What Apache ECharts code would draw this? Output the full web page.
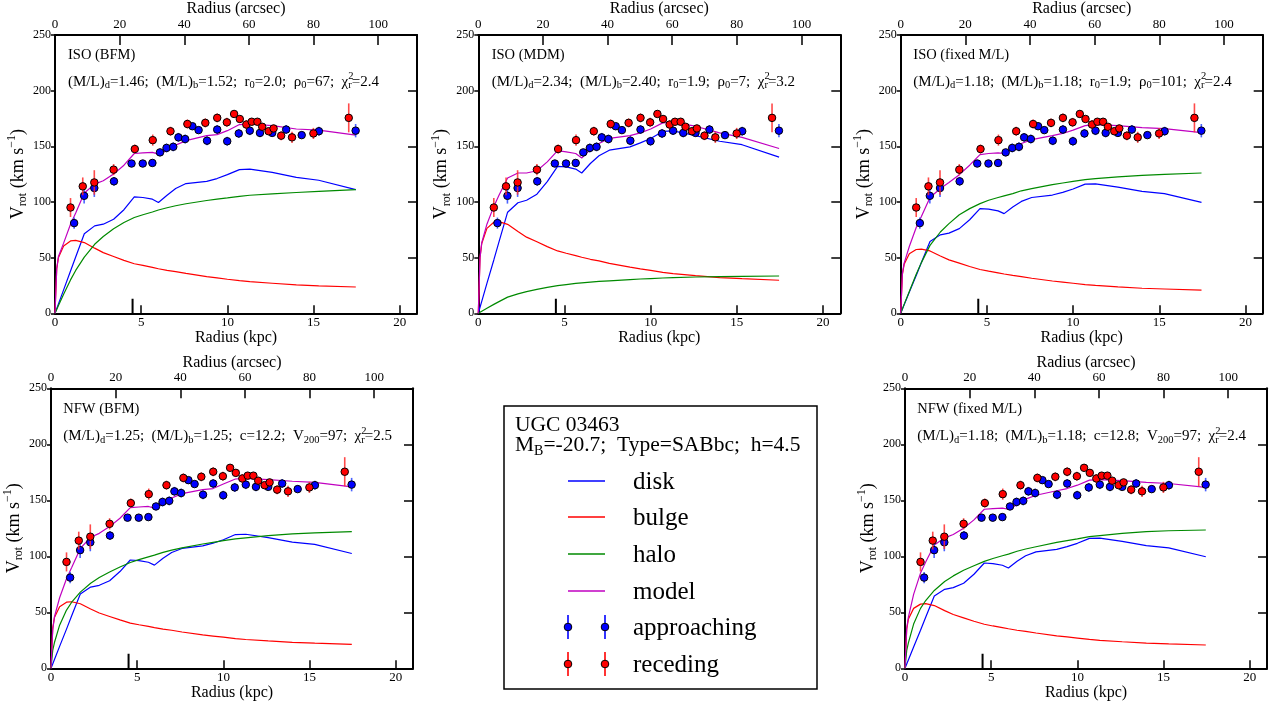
<!DOCTYPE html>
<html><head><meta charset="utf-8">
<script src="https://cdn.jsdelivr.net/npm/echarts/dist/echarts.min.js"></script>
<style>html,body{margin:0;padding:0;background:#fff}#c{width:1272px;height:706px}</style>
</head><body><div id="c"></div>
<script>
// ---------------- data ----------------
const radiusKpc = [0, 0.1, 0.2, 0.5, 0.9, 1.2, 1.7, 2.3, 2.8, 3.4, 4.0, 4.6, 5.1, 5.65, 6.0, 6.5, 7.0, 7.6, 8.8, 9.4, 10.0, 10.7, 11.3, 12.6, 14.0, 15.3, 17.45];

// ISO (BFM)
const isoBfmDisk  = [0, 4.2, 8.5, 21, 38, 50.5, 71.5, 78.5, 80, 84.5, 93, 104.5, 104, 102.5, 99.5, 106, 112, 116.5, 118.5, 121, 124.5, 129, 129.5, 126.5, 122, 119.5, 111];
const isoBfmBulge = [0, 40, 50, 60.5, 65, 65.5, 63.5, 58.5, 54.5, 51, 47.5, 44.5, 43, 41.2, 40, 38.6, 37.5, 35.8, 33, 31.8, 30.6, 29.3, 28.4, 27, 25.5, 24.7, 23.6];
const isoBfmHalo  = [0, 3.5, 7, 17.2, 30, 38.5, 50.5, 62, 69, 76, 81.5, 86, 88.5, 91, 92.8, 94.8, 96.6, 98.4, 101.3, 102.5, 103.6, 105, 106, 107.2, 108.5, 109.5, 111];
const isoBfmModel = [0, 40, 51, 63, 80, 90, 108, 116, 119, 125, 133, 143.5, 144, 144.5, 143, 146, 151, 155, 159.5, 160.5, 164, 169.5, 170, 168.5, 165.5, 164.5, 160];

// ISO (MDM)
const isoMdmDisk  = [0, 5.4, 10.7, 26.8, 47.9, 64.2, 90.8, 99.3, 101.5, 107, 118.3, 132, 131.5, 129.5, 126, 134.5, 141.5, 146.5, 149.5, 153, 157, 163.3, 163.8, 159.5, 154.5, 151.4, 140.2];
const isoMdmBulge = [0, 50, 62.7, 76.3, 81.7, 82.3, 79.9, 73.4, 68.4, 64.2, 59.9, 56, 53.9, 51.8, 50.3, 48.5, 47.1, 44.9, 41.4, 39.9, 38.5, 36.8, 35.7, 33.8, 32.1, 31.1, 29.7];
const isoMdmHalo  = [0, 1, 1.8, 4.5, 8, 10.5, 14.5, 17.5, 19.5, 21.5, 23.3, 24.8, 25.8, 26.8, 27.3, 28, 28.6, 29.2, 30.3, 30.8, 31.2, 31.7, 32.1, 32.6, 33, 33.2, 33.5];
const isoMdmModel = [0, 50, 63.5, 80, 96, 106, 121.5, 126, 126, 128, 136, 146, 145, 143.5, 139.5, 147, 152.5, 157, 159.5, 162, 165.5, 171, 171.5, 168, 162, 158, 148];

// ISO (fixed M/L)
const isoFixDisk  = [0, 3.8, 7.6, 19, 34, 45.6, 64.5, 70.5, 72, 76, 84, 94, 93.5, 92, 89.5, 95.5, 100.5, 104, 106.2, 108.6, 111.6, 116, 116.3, 113.3, 109.5, 107.5, 99.6];
const isoFixBulge = [0, 35, 44, 53.5, 57.3, 57.7, 56, 51.5, 48, 45, 42, 39.3, 37.8, 36.3, 35.3, 34, 33, 31.5, 29, 28, 27, 25.8, 25, 23.7, 22.5, 21.8, 20.8];
const isoFixHalo  = [0, 4, 8, 19.5, 35, 45.5, 61, 73, 80.5, 88.5, 94, 98.5, 101.5, 104, 105.5, 107.5, 110, 112, 115.5, 117, 118.5, 120, 121, 122.5, 123.8, 124.8, 126];
const isoFixModel = [0, 36, 45, 60, 77, 87, 104, 112, 117.5, 124.5, 133, 142.5, 143.5, 144, 143.5, 147.5, 152.5, 156, 159.5, 161.5, 164.5, 168.5, 169.5, 168.5, 166.7, 165.8, 162.3];

// NFW (BFM)
const nfwBfmDisk  = [0, 3.9, 7.8, 19.6, 35, 46.9, 66.4, 72.5, 74.1, 78.2, 86.4, 96.7, 96.2, 94.7, 92.1, 98.3, 103.4, 107, 109.3, 111.7, 114.8, 119.4, 119.7, 116.6, 112.7, 110.6, 102.5];
const nfwBfmBulge = [0, 36, 45.3, 55, 59, 59.4, 57.6, 53, 49.4, 46.3, 43.2, 40.4, 38.9, 37.4, 36.3, 35, 34, 32.4, 29.8, 28.8, 27.8, 26.5, 25.7, 24.4, 23.2, 22.4, 21.4];
const nfwBfmHalo  = [0, 16, 23, 38.5, 52, 59, 68, 76, 81, 86, 90.5, 94.5, 97, 99.5, 101, 103.5, 105.5, 107.5, 111, 112.5, 114, 115.5, 116.5, 118.5, 120, 121, 122];
const nfwBfmModel = [0, 34, 46, 63, 80, 90, 107, 117, 120.5, 126.5, 134, 143.5, 144, 144.5, 143, 147, 152, 156, 159.5, 160.5, 164.5, 169, 169.5, 168.5, 167, 166, 162];

// NFW (fixed M/L)
const nfwFixDisk  = [0, 3.8, 7.6, 19, 34, 45.6, 64.5, 70.5, 72, 76, 84, 94, 93.5, 92, 89.5, 95.5, 100.5, 104, 106.2, 108.6, 111.6, 116, 116.3, 113.3, 109.5, 107.5, 99.6];
const nfwFixBulge = [0, 35, 44, 53.5, 57.3, 57.7, 56, 51.5, 48, 45, 42, 39.3, 37.8, 36.3, 35.3, 34, 33, 31.5, 29, 28, 27, 25.8, 25, 23.7, 22.5, 21.8, 20.8];
const nfwFixHalo  = [0, 16, 23, 39.5, 53.5, 60.5, 69.5, 77.5, 82.5, 87.5, 91.5, 95.5, 98, 100.5, 102, 104.5, 106.5, 108.5, 112.5, 114, 115.5, 117.5, 118.5, 120.5, 122, 122.8, 123.5];
const nfwFixModel = [0, 36, 46, 66, 85, 95, 110, 116.5, 119.5, 125, 132.5, 142, 142.5, 143, 142, 146, 151, 154.5, 158.5, 160.5, 163.5, 168, 168.5, 167.5, 166, 165, 161.5];

// observed points
const recR = [0.90, 1.61, 2.28, 3.40, 4.63, 5.67, 6.70, 7.68, 8.72, 9.41, 9.97, 10.39, 10.72, 11.10, 11.41, 11.74, 12.02, 12.39, 12.68, 13.12, 13.75, 14.99, 17.04];
const recV = [95, 114, 117.5, 129, 147.5, 155.5, 163.5, 170, 171, 175.5, 171.5, 179, 174.5, 169.5, 172, 172, 167.5, 163.5, 166, 159.5, 158, 161.5, 175.5];
const recE = [8.5, 8, 11, 5, 4, 5, 4, 4, 4, 4, 4, 3, 3, 4, 3, 3, 3, 3, 3, 4, 5, 5, 13];
const appR = [1.11, 1.69, 2.28, 3.42, 4.44, 5.09, 5.65, 6.09, 6.47, 6.86, 7.16, 7.55, 7.97, 8.33, 8.82, 9.41, 9.99, 10.66, 11.30, 11.89, 12.60, 13.41, 14.31, 15.31, 17.44];
const appV = [81, 105.5, 112.5, 118.5, 134.5, 134.5, 135, 144.5, 148.5, 149.5, 158, 156.5, 168, 164.5, 155, 165, 154.5, 161.5, 164, 162, 162, 165, 160, 163.5, 164];
const appE = [5, 7, 8, 4, 3, 3, 3, 3, 4, 4, 4, 4, 3, 3, 4, 4, 4, 4, 4, 4, 3, 4, 3, 4, 6];

const scaleLengthH = [4.5, 0, 13];   // disk scale length marker (kpc, from, to)

const kpcTicks = [0, 21, 5];         // min, max, interval
const arcsecTicks = [0, 112, 20];
const vTicks = [0, 250, 50];

const panelTitles = ['ISO (BFM)', 'ISO (MDM)', 'ISO (fixed M/L)', 'NFW (BFM)', 'NFW (fixed M/L)'];
const panelParams = [
  '{n|(M/L)}{s|d}{n|=1.46;  (M/L)}{s|b}{n|=1.52;  r}{s|0}{n|=2.0;  ρ}{s|0}{n|=67;  χ}{z|2}{s|r}{n|=2.4}',
  '{n|(M/L)}{s|d}{n|=2.34;  (M/L)}{s|b}{n|=2.40;  r}{s|0}{n|=1.9;  ρ}{s|0}{n|=7;  χ}{z|2}{s|r}{n|=3.2}',
  '{n|(M/L)}{s|d}{n|=1.18;  (M/L)}{s|b}{n|=1.18;  r}{s|0}{n|=1.9;  ρ}{s|0}{n|=101;  χ}{z|2}{s|r}{n|=2.4}',
  '{n|(M/L)}{s|d}{n|=1.25;  (M/L)}{s|b}{n|=1.25;  c=12.2;  V}{s|200}{n|=97;  χ}{z|2}{s|r}{n|=2.5}',
  '{n|(M/L)}{s|d}{n|=1.18;  (M/L)}{s|b}{n|=1.18;  c=12.8;  V}{s|200}{n|=97;  χ}{z|2}{s|r}{n|=2.4}'
];
const legendNames = ['disk', 'bulge', 'halo', 'model', 'approaching', 'receding'];
const galaxyName = 'UGC 03463';
const galaxyInfo = '{n|M}{s|B}{n|=-20.7;  Type=SABbc;  h=4.5}';

// ---------------- layout / style ----------------
const FONT = "'Liberation Serif', 'Times New Roman', serif";
const C_DISK = '#0000ff', C_BULGE = '#ff0000', C_HALO = '#008a00', C_MODEL = '#c000c0';
const C_APP = '#0000ff', C_REC = '#ff0000';

const panelData = [
  [isoBfmDisk, isoBfmBulge, isoBfmHalo, isoBfmModel],
  [isoMdmDisk, isoMdmBulge, isoMdmHalo, isoMdmModel],
  [isoFixDisk, isoFixBulge, isoFixHalo, isoFixModel],
  [nfwBfmDisk, nfwBfmBulge, nfwBfmHalo, nfwBfmModel],
  [nfwFixDisk, nfwFixBulge, nfwFixHalo, nfwFixModel]
];
const gridPos = [
  {left: 55, top: 33.3}, {left: 478.3, top: 33.3}, {left: 900.7, top: 33.3},
  {left: 51, top: 388.3}, {left: 905, top: 388.3}
];
const GW = 362, GH = 280;

const axisLine = {show: true, onZero: false, lineStyle: {color: '#000', width: 2}};
const lblStyle = {color: '#000', fontFamily: FONT};

const grids = [], xAxes = [], yAxes = [], series = [], graphics = [];

function errItem(params, api) {
  const x = api.value(0), y = api.value(1), e = api.value(2);
  const p1 = api.coord([x, y - e]), p2 = api.coord([x, y + e]);
  return {type: 'line', shape: {x1: p1[0], y1: p1[1], x2: p2[0], y2: p2[1]},
          style: {stroke: api.visual('color'), lineWidth: 1.6, opacity: 0.85}};
}

gridPos.forEach((g, i) => {
  grids.push({left: g.left, top: g.top, width: GW, height: GH, show: false});
  xAxes.push({
    gridIndex: i, type: 'value', position: 'bottom',
    min: kpcTicks[0], max: kpcTicks[1], interval: kpcTicks[2],
    axisLine, axisTick: {inside: true, length: 8, lineStyle: {color: '#000', width: 1.5}},
    axisLabel: Object.assign({fontSize: 13, margin: 3, showMaxLabel: false}, lblStyle),
    splitLine: {show: false},
    name: 'Radius (kpc)', nameLocation: 'middle', nameGap: 16,
    nameTextStyle: {fontFamily: FONT, fontSize: 16, color: '#000'}
  });
  xAxes.push({
    gridIndex: i, type: 'value', position: 'top',
    min: arcsecTicks[0], max: arcsecTicks[1], interval: arcsecTicks[2],
    axisLine, axisTick: {inside: true, length: 10, lineStyle: {color: '#000', width: 1.5}},
    axisLabel: Object.assign({fontSize: 13, margin: 4, showMaxLabel: false}, lblStyle),
    splitLine: {show: false},
    name: 'Radius (arcsec)', nameLocation: 'middle', nameGap: 15,
    nameTextStyle: {fontFamily: FONT, fontSize: 16, color: '#000'}
  });
  yAxes.push({
    gridIndex: i, type: 'value', position: 'left',
    min: vTicks[0], max: vTicks[1], interval: vTicks[2],
    axisLine, axisTick: {inside: false, length: 4, lineStyle: {color: '#000', width: 1.5}},
    axisLabel: Object.assign({fontSize: 12, margin: 4}, lblStyle),
    splitLine: {show: false},
    name: '{v|V}{s|rot}{v| (km s}{p|−1}{v|)}', nameLocation: 'middle', nameGap: 25, nameRotate: 90,
    nameTextStyle: {
      rich: {
        v: {fontFamily: FONT, fontSize: 18, verticalAlign: 'top', padding: [3, 0, 0, 0], color: '#000'},
        s: {fontFamily: FONT, fontSize: 12, verticalAlign: 'top', padding: [11, 0, 0, 0], color: '#000'},
        p: {fontFamily: FONT, fontSize: 12, verticalAlign: 'top', padding: [0, 0, 0, 0], color: '#000'}
      }
    }
  });
  yAxes.push({
    gridIndex: i, type: 'value', position: 'right',
    min: vTicks[0], max: vTicks[1], interval: vTicks[2],
    axisLine, axisTick: {inside: true, length: 9, lineStyle: {color: '#000', width: 1.5}},
    axisLabel: {show: false}, splitLine: {show: false}
  });

  const xi = 2 * i, yi = 2 * i;
  const comps = panelData[i];
  const cols = [C_DISK, C_BULGE, C_HALO, C_MODEL];
  comps.forEach((vals, k) => {
    series.push({
      type: 'line', name: legendNames[k], xAxisIndex: xi, yAxisIndex: yi,
      data: radiusKpc.map((r, j) => [r, vals[j]]),
      symbol: 'none', showSymbol: false, smooth: false,
      lineStyle: {color: cols[k], width: 1.2}, itemStyle: {color: cols[k]},
      silent: true, z: 2
    });
  });
  series.push({
    type: 'line', xAxisIndex: xi, yAxisIndex: yi,
    data: [[scaleLengthH[0], scaleLengthH[1]], [scaleLengthH[0], scaleLengthH[2]]],
    symbol: 'none', lineStyle: {color: '#000', width: 2}, silent: true, z: 2
  });
  series.push({
    type: 'custom', xAxisIndex: xi, yAxisIndex: yi, renderItem: errItem,
    data: appR.map((r, j) => [r, appV[j], appE[j]]), encode: {x: 0, y: 1},
    itemStyle: {color: '#2a48ff'}, silent: true, z: 3
  });
  series.push({
    type: 'scatter', xAxisIndex: xi, yAxisIndex: yi,
    data: appR.map((r, j) => [r, appV[j]]), symbol: 'circle', symbolSize: 7.5,
    itemStyle: {color: C_APP, borderColor: '#000', borderWidth: 1, opacity: 1}, silent: true, z: 4
  });
  series.push({
    type: 'custom', xAxisIndex: xi, yAxisIndex: yi, renderItem: errItem,
    data: recR.map((r, j) => [r, recV[j], recE[j]]), encode: {x: 0, y: 1},
    itemStyle: {color: '#ff2a2a'}, silent: true, z: 5
  });
  series.push({
    type: 'scatter', xAxisIndex: xi, yAxisIndex: yi,
    data: recR.map((r, j) => [r, recV[j]]), symbol: 'circle', symbolSize: 7.5,
    itemStyle: {color: C_REC, borderColor: '#000', borderWidth: 1, opacity: 1}, silent: true, z: 6
  });
});

// panel annotations
const titlePos = [[68, 55], [491.7, 55], [913.3, 55], [63.3, 409.3], [917.3, 409.3]];
const richParam = {
  n: {fontFamily: FONT, fontSize: 15, verticalAlign: 'top', padding: [3, 0, 0, 0], fill: '#000', color: '#000'},
  s: {fontFamily: FONT, fontSize: 10.5, verticalAlign: 'top', padding: [9, 0, 0, 0], fill: '#000', color: '#000'},
  z: {fontFamily: FONT, fontSize: 10.5, verticalAlign: 'top', padding: [0, 0, 0, 0], fill: '#000', color: '#000', width: 0}
};
titlePos.forEach((p, i) => {
  graphics.push({type: 'text', x: p[0], y: p[1], silent: true, z: 10,
    style: {text: panelTitles[i], font: `14.5px ${FONT}`, fill: '#000', verticalAlign: 'middle', align: 'left'}});
  graphics.push({type: 'text', x: p[0], y: p[1] + 26.7 - 10.5, silent: true, z: 10,
    style: {text: panelParams[i], rich: richParam, verticalAlign: 'top', align: 'left'}});
});

// legend box
graphics.push({type: 'rect', shape: {x: 504, y: 406, width: 313, height: 283}, silent: true, z: 10,
  style: {fill: '#fff', stroke: '#000', lineWidth: 1.5}});
graphics.push({type: 'text', x: 515, y: 425, silent: true, z: 11,
  style: {text: galaxyName, font: `21.5px ${FONT}`, fill: '#000', verticalAlign: 'middle', align: 'left'}});
graphics.push({type: 'text', x: 515, y: 445 - 14, silent: true, z: 11,
  style: {text: galaxyInfo, verticalAlign: 'top', align: 'left', rich: {
    n: {fontFamily: FONT, fontSize: 21.5, verticalAlign: 'top', padding: [3, 0, 0, 0], fill: '#000', color: '#000'},
    s: {fontFamily: FONT, fontSize: 14, verticalAlign: 'top', padding: [13, 0, 0, 0], fill: '#000', color: '#000'}
  }}});
const legendY = [481, 517, 554, 591, 627, 664];
const legendCols = [C_DISK, C_BULGE, C_HALO, C_MODEL, C_APP, C_REC];
legendNames.forEach((nm, k) => {
  const y = legendY[k];
  if (k < 4) {
    graphics.push({type: 'line', shape: {x1: 568, y1: y, x2: 605, y2: y}, silent: true, z: 11,
      style: {stroke: legendCols[k], lineWidth: 1.4}});
  } else {
    [568, 605].forEach(x => {
      graphics.push({type: 'line', shape: {x1: x, y1: y - 12, x2: x, y2: y + 12}, silent: true, z: 11,
        style: {stroke: legendCols[k], lineWidth: 1.6}});
      graphics.push({type: 'circle', shape: {cx: x, cy: y, r: 3.8}, silent: true, z: 12,
        style: {fill: legendCols[k], stroke: '#000', lineWidth: 1}});
    });
  }
  graphics.push({type: 'text', x: 633, y: y + 1, silent: true, z: 11,
    style: {text: nm, font: `25px ${FONT}`, fill: '#000', verticalAlign: 'middle', align: 'left'}});
});

const chart = echarts.init(document.getElementById('c'), null, {renderer: 'canvas'});
chart.setOption({
  backgroundColor: '#fff',
  animation: false,
  grid: grids, xAxis: xAxes, yAxis: yAxes, series: series, graphic: graphics
});
</script></body></html>
